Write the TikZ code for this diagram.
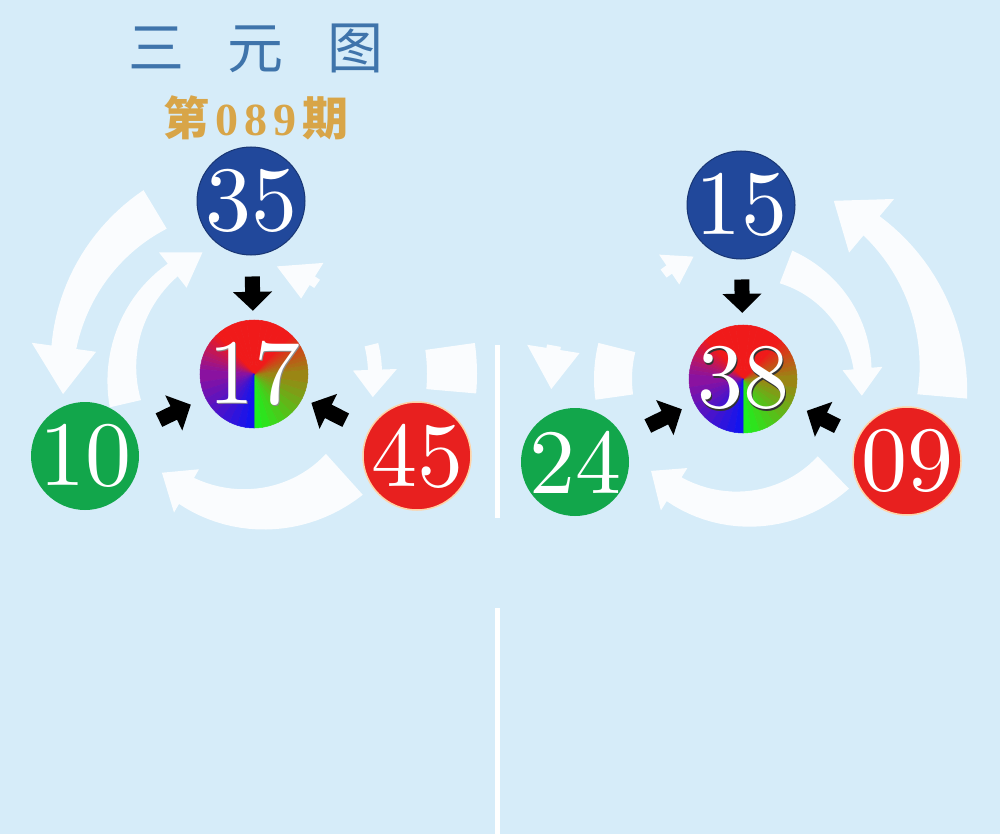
\documentclass[tikz,border=0pt]{standalone}
\usepackage{fontspec}
\newfontfamily\cjk{Noto Sans CJK SC}
\newfontfamily\issuedigits{Liberation Serif}
\newfontfamily\ballfont{lmroman10-regular}[Extension=.otf]
\usetikzlibrary{arrows.meta}

\definecolor{sky}{HTML}{D6ECF9}
\definecolor{ballblue}{HTML}{21489B}
\definecolor{ballgreen}{HTML}{12A64B}
\definecolor{ballred}{HTML}{E8201F}
\definecolor{titleblue}{HTML}{3F74AB}
\definecolor{issuegold}{HTML}{D8A548}
\definecolor{wheelgreen}{HTML}{1EF01E}
\definecolor{wheelolive}{HTML}{9A8614}
\definecolor{wheelred}{HTML}{F01A1A}
\definecolor{wheelpurple}{HTML}{8A12A0}
\definecolor{wheelblue}{HTML}{1414EE}

% colour wheel behind the centre balls
\newcommand\wheel[2]{%
  \foreach \ca/\cb/\sa/\sb in {wheelgreen/wheelolive/90/0,wheelolive/wheelred/0/-50,wheelred/wheelred/-50/-130,wheelred/wheelpurple/-130/-180,wheelpurple/wheelblue/-180/-270}{
    \foreach \k in {0,...,9}{
      \pgfmathsetmacro\aa{\sa+(\sb-\sa)*\k/10}
      \pgfmathsetmacro\ab{\sa+(\sb-\sa)*(\k+1)/10}
      \pgfmathtruncatemacro\pc{100-\k*100/9}
      \filldraw[fill=\ca!\pc!\cb, draw=\ca!\pc!\cb, line width=0.5] (#1) -- ++(\aa:#2) arc[start angle=\aa, end angle=\ab, radius=#2] -- cycle;
    }
  }
}
% tapered white ring arrow: centre, start, base, tip (page angles), radius, start width, end width, head width
\newcommand\swoosh[8]{%
  \fill[flow, shift={(#1)}]
    plot[domain=#2:#3, samples=24] ({-\x}:{#5+(#6+(#7-#6)*(\x-(#2))/((#3)-(#2)))/2})
    -- ({-(#3)}:{#5+(#8)/2}) -- ({-(#4)}:{#5}) -- ({-(#3)}:{#5-(#8)/2})
    -- plot[domain=#3:#2, samples=24] ({-\x}:{#5-(#6+(#7-#6)*(\x-(#2))/((#3)-(#2)))/2})
    -- cycle;
}
\newcommand\shadowed[2]{\rlap{\raisebox{-1.5pt}{\kern1.8pt\color{black!#1}#2}}#2}

\tikzset{
    x={1pt},
    y={-1pt},
    ball/.style={
        circle, fill={#1},
        minimum size={108},
        inner sep=-3pt,
        text=white,
        font={\ballfont\fontsize{92}{92}\selectfont},
    },
    blue ball/.style={ball={ballblue}, draw={ballblue!75!black}, line width={1pt}},
    green ball/.style={ball={ballgreen}},
    red ball/.style={ball={ballred}, draw={orange!35!white}, line width={1.5pt}},
    core/.style={ball={none}},
    flow/.style={
        fill=white, fill opacity=0.88,
    },
    push/.style={
        draw=black,
        line width={15pt},
        -{Triangle[length=19pt,width=38pt]},
    },
    divider/.style={
        draw=white, line width={5pt},
    },
    title/.style={
        text={titleblue},
        font={\cjk\fontsize{56}{56}\selectfont},
        inner sep=0pt,
    },
    issue/.style={
        text={issuegold},
        font={\cjk\bfseries\fontsize{46}{46}\selectfont},
        inner sep=0pt,
    },
}

\begin{document}
\begin{tikzpicture}
% background
\fill[sky] (0,0) rectangle (1000,834);
\useasboundingbox (0,0) rectangle (1000,834);
\draw[divider] (497,345) -- (497,518);
\draw[divider] (497,608) -- (497,834);
% heading
\node[title] (title) at (256,48) {三\hspace{44pt}元\hspace{44pt}图};
\node[issue] (issue) at (256,118) {第\hspace{6pt}{\issuedigits\bfseries 0\hspace{6pt}8\hspace{6pt}9}\hspace{6pt}期};
% left balls
\coordinate (c17) at (254,374);
\wheel{c17}{54}
\node[blue ball] (n35) at (251,201) {35};
\node[core] (n17) at (c17) {\shadowed{45}{17}};
\node[green ball] (n10) at (85,456) {10};
\node[red ball] (n45) at (417,456) {45};
% right balls
\coordinate (c38) at (743,379);
\wheel{c38}{54}
\node[blue ball] (n15) at (741,205) {15};
\node[core] (n38) at (c38) {\shadowed{80}{38}};
\node[green ball] (n24) at (575,462) {24};
\node[red ball] (n09) at (907,461) {09};
% white ring arrows
\swoosh{n17}{121}{172}{186}{192}{45}{25}{65}
\swoosh{n17}{193}{128}{113}{132}{32}{16}{45}
\swoosh{n17}{55}{58}{78}{110}{10}{10}{42}
\swoosh{n17}{14}{2}{-11}{121}{14}{14}{44}
\swoosh{n17}{8}{-5}{-5.01}{198}{50}{50}{50}
\swoosh{n17}{-48}{-120}{-133}{135}{55}{30}{50}
\swoosh{n38}{127}{124}{112}{132}{10}{10}{36}
\swoosh{n38}{69}{5}{-8}{120}{35}{18}{40}
\swoosh{n38}{-5}{50}{63}{200}{50}{25}{70}
\swoosh{n38}{-46}{-122}{-135}{130}{45}{28}{50}
\swoosh{n38}{170}{171}{183}{192}{14}{14}{53}
\swoosh{n38}{166}{188}{188.01}{130}{38}{38}{38}
% black arrows
\draw[push, shorten <=21, shorten >=9] (n35) -- (n17);
\draw[push, shorten <=28, shorten >=16] (n10) -- (n17);
\draw[push, shorten <=25, shorten >=10] (n45) -- (n17);
\draw[push, shorten <=20, shorten >=12] (n15) -- (n38);
\draw[push, shorten <=27, shorten >=14] (n24) -- (n38);
\draw[push, shorten <=23, shorten >=17] (n09) -- (n38);
\end{tikzpicture}
\end{document}
